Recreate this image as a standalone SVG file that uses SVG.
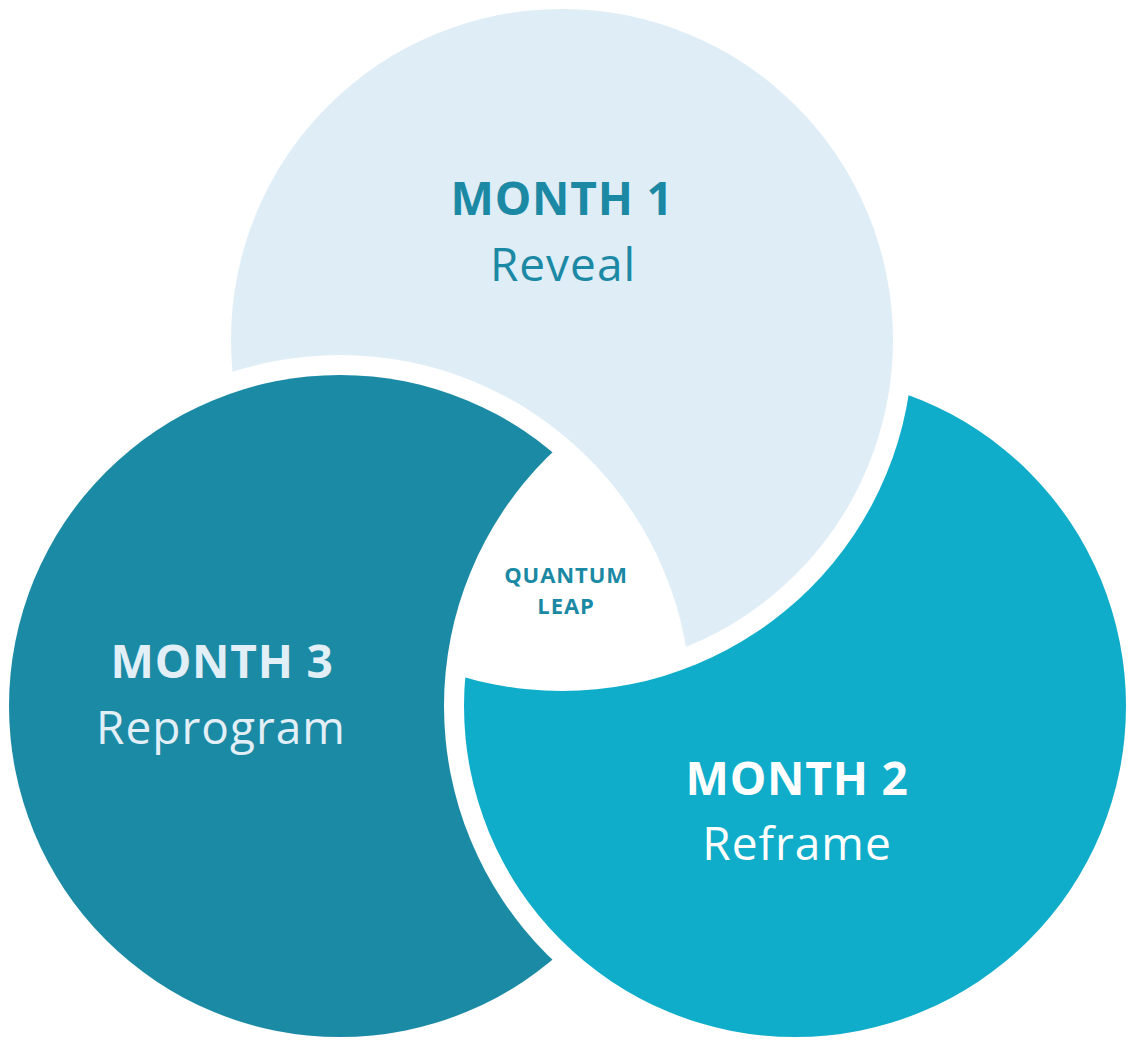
<svg xmlns="http://www.w3.org/2000/svg" width="1136" height="1048" viewBox="0 0 1136 1048">
<style>
.t{font-family:"Open Sans","Liberation Sans",sans-serif;text-anchor:middle}
.b{font-weight:700;font-size:46px;letter-spacing:0.8px}
.r{font-weight:400;font-size:46px;letter-spacing:1px}
.q{font-weight:700;font-size:22px;letter-spacing:0.9px;fill:#1B89A4}
</style>
<defs>
<mask id="m1" maskUnits="userSpaceOnUse" x="0" y="0" width="1136" height="1048">
<rect width="1136" height="1048" fill="#fff"/><circle cx="340" cy="706" r="351" fill="#000"/>
</mask>
<mask id="m3" maskUnits="userSpaceOnUse" x="0" y="0" width="1136" height="1048">
<rect width="1136" height="1048" fill="#fff"/><circle cx="795" cy="706" r="351" fill="#000"/>
</mask>
<mask id="m2" maskUnits="userSpaceOnUse" x="0" y="0" width="1136" height="1048">
<rect width="1136" height="1048" fill="#fff"/><circle cx="562" cy="340" r="351" fill="#000"/>
</mask>
</defs>
<rect width="1136" height="1048" fill="#fff"/>
<g id="month1">
<circle cx="562" cy="340" r="331" fill="#DFEDF7" mask="url(#m1)"/>
<text class="t b" x="562" y="215" fill="#1B89A4">MONTH 1</text>
<text class="t r" x="563" y="281" fill="#1B89A4">Reveal</text>
</g>
<g id="month3">
<circle cx="340" cy="706" r="331" fill="#1B8AA5" mask="url(#m3)"/>
<text class="t b" x="222" y="678" fill="#E2EFF7">MONTH 3</text>
<text class="t r" x="221" y="744" fill="#E2EFF7">Reprogram</text>
</g>
<g id="month2">
<circle cx="795" cy="706" r="331" fill="#10ADCA" mask="url(#m2)"/>
<text class="t b" x="797" y="795" fill="#FFFFFF">MONTH 2</text>
<text class="t r" x="797" y="860" fill="#FFFFFF">Reframe</text>
</g>
<g id="quantum-leap">
<text class="t q" x="566" y="583">QUANTUM</text>
<text class="t q" x="566" y="614">LEAP</text>
</g>
<g id="connectors"></g>
</svg>
